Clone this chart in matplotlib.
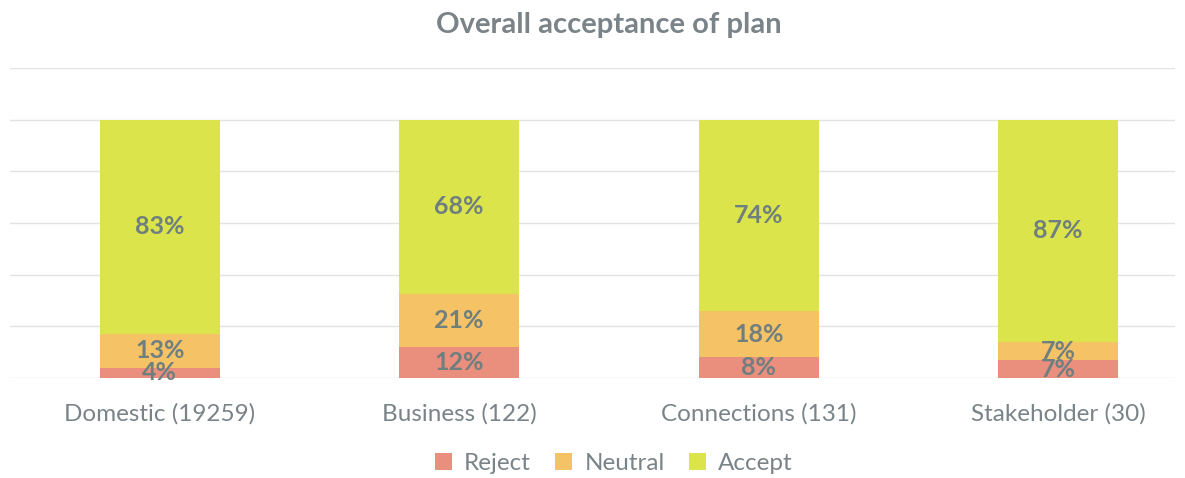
import numpy as np
import matplotlib.pyplot as plt

categories = ["Domestic (19259)", "Business (122)", "Connections (131)", "Stakeholder (30)"]
reject = [4, 12, 8, 7]
neutral = [13, 21, 18, 7]
accept = [83, 68, 74, 87]

series = ["Reject", "Neutral", "Accept"]
colors = ["#ea8f7e", "#f5c266", "#dce44b"]
text_col = "#6f7f7f"

plt.rcParams['font.family'] = ['Lato', 'DejaVu Sans']

fig = plt.figure(figsize=(11.85, 4.78), dpi=100)
ax = fig.add_axes([0.0084, 0.2092, 0.9832, 0.6485])

vals = np.array([reject, neutral, accept], dtype=float)
shares = vals / vals.sum(axis=0) * 100  # 100% stacked like the original
x = np.arange(len(categories))
bottom = np.zeros(len(categories))
for i, name in enumerate(series):
    ax.bar(x, shares[i], 0.4, bottom=bottom, color=colors[i], label=name, zorder=2)
    for j in range(len(categories)):
        ax.text(x[j], bottom[j] + shares[i][j] / 2, f"{int(vals[i][j])}%",
                ha='center', va='center', fontsize=18, fontweight='bold',
                color=text_col, zorder=3)
    bottom += shares[i]

ax.set_xlim(-0.5, 3.39)
ax.set_ylim(0, 120)
ax.set_yticks(np.arange(0, 121, 20))
ax.yaxis.grid(True, color="#e3e3e3", linewidth=1, zorder=0)
ax.tick_params(axis='y', left=False, labelleft=False)
ax.tick_params(axis='x', length=0, pad=18, labelsize=17.5, labelcolor="#7a8488")
ax.set_xticks(x)
ax.set_xticklabels(categories)
for s in ax.spines.values():
    s.set_visible(False)

fig.text(0.514, 0.947, "Overall acceptance of plan", ha='center', va='center',
         fontsize=21, fontweight='bold', color="#7a8488")

fig.legend(loc='center', bbox_to_anchor=(0.518, 0.03), ncol=3, frameon=False,
           fontsize=17.5, labelcolor="#7a8488", handlelength=0.7, handleheight=0.7,
           handletextpad=0.5, columnspacing=1.0)

fig.savefig("out.png", dpi=100)
